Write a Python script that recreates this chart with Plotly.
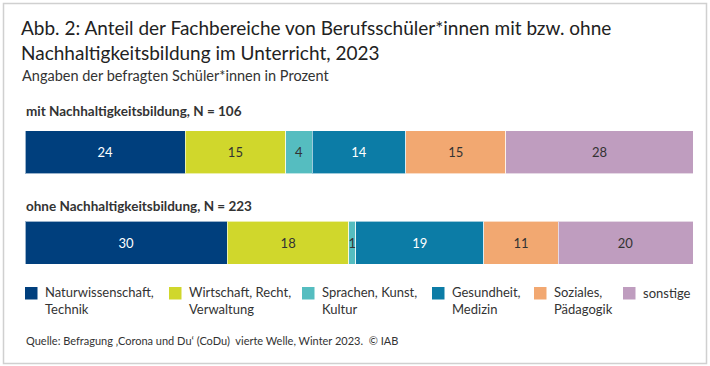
import plotly.graph_objects as go

groups = ["mit", "ohne"]
group_labels = ["mit Nachhaltigkeitsbildung, N = 106", "ohne Nachhaltigkeitsbildung, N = 223"]
categories = ["Naturwissenschaft,<br>Technik", "Wirtschaft, Recht,<br>Verwaltung",
              "Sprachen, Kunst,<br>Kultur", "Gesundheit,<br>Medizin",
              "Soziales,<br>Pädagogik", "sonstige"]
mit_values = [24, 15, 4, 14, 15, 28]
ohne_values = [30, 18, 1, 19, 11, 20]
colors = ["#003f7d", "#d0d72c", "#55bdc0", "#0c7ca6", "#f2a871", "#bf9dbf"]
text_colors = ["#ffffff", "#333333", "#333333", "#ffffff", "#333333", "#333333"]

FONT = "Lato, 'Source Sans Pro', sans-serif"

fig = go.Figure()
for i, cat in enumerate(categories):
    vals = [mit_values[i], ohne_values[i]]
    fig.add_trace(go.Bar(
        y=[0, 1], x=vals, orientation="h", name=cat,
        marker=dict(color=colors[i], line=dict(color="rgba(255,255,255,0.6)", width=1)),
        width=0.475,
        text=[str(v) for v in vals], textposition="inside",
        insidetextanchor="middle", constraintext="none",
        textfont=dict(color=text_colors[i], size=13, family=FONT),
        hoverinfo="skip", showlegend=False,
    ))

fig.update_layout(
    barmode="stack", barnorm="percent",
    width=710, height=366,
    margin=dict(l=25, r=17, t=107, b=78),
    paper_bgcolor="white", plot_bgcolor="white",
    font=dict(family=FONT, color="#333333"),
    xaxis=dict(range=[0, 100], visible=False, fixedrange=True),
    yaxis=dict(range=[1.5, -0.5], visible=False, fixedrange=True),
    showlegend=False,
)

def px_x(px):
    return (px - 25) / 668.0

def px_y(px):
    return (288 - px) / 181.0

def ann(text, x, yc, size, color="#222222", bold=False):
    fig.add_annotation(text=("<b>%s</b>" % text) if bold else text,
                       xref="paper", yref="paper", x=px_x(x), y=px_y(yc),
                       xanchor="left", yanchor="middle", showarrow=False,
                       font=dict(size=size, color=color, family=FONT), align="left")

ann("Abb. 2: Anteil der Fachbereiche von Berufsschüler*innen mit bzw. ohne", 19, 27, 19)
ann("Nachhaltigkeitsbildung im Unterricht, 2023", 19, 52.5, 19)
ann("Angaben der befragten Schüler*innen in Prozent", 20, 75.5, 14.5, "#333333")
ann(group_labels[0], 24, 110.5, 13.5, "#333333", bold=True)
ann(group_labels[1], 24, 205.5, 13.5, "#333333", bold=True)
ann("Quelle: Befragung ‚Corona und Du‘ (CoDu)  vierte Welle, Winter 2023.  © IAB",
    24, 340, 11, "#333333")

# legend (swatch + label) built from the series lists
legend_left = [25, 169, 302, 432, 534, 623]
for i, cat in enumerate(categories):
    x0 = legend_left[i]
    fig.add_shape(type="rect", xref="paper", yref="paper",
                  x0=px_x(x0), x1=px_x(x0 + 12.5), y0=px_y(299.5), y1=px_y(287),
                  line=dict(width=0), fillcolor=colors[i])
    nlines = cat.count("<br>") + 1
    yc = 292.5 + 8 * (nlines - 1)
    ann(cat, x0 + 18, yc, 13, "#333333")

fig.add_shape(type="rect", xref="paper", yref="paper",
              x0=px_x(3.5), x1=px_x(706.5), y0=px_y(363.5), y1=px_y(3.5),
              line=dict(color="#d0d0d0", width=1.5), fillcolor="rgba(0,0,0,0)", layer="below")

fig.write_html("out.html", config={"displayModeBar": False},
               post_script="document.body.style.margin='0px';")
